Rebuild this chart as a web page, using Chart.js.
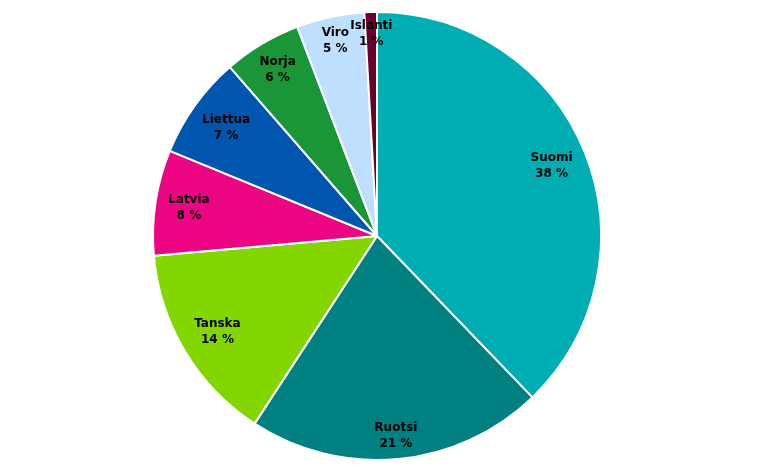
<!DOCTYPE html>
<html>
<head>
<meta charset="utf-8">
<script src="https://cdn.jsdelivr.net/npm/chart.js@4/dist/chart.umd.min.js"></script>
<style>
  html,body{margin:0;padding:0;background:#fff}
  #wrap{width:761px;height:471px;position:relative}
</style>
</head>
<body>
<div id="wrap"><canvas id="pie"></canvas></div>
<script>
const countries = ['Suomi','Ruotsi','Tanska','Latvia','Liettua','Norja','Viro','Islanti']
const shares = [37.8, 21.4, 14.4, 7.6, 7.4, 5.6, 4.9, 0.9]
const colors = ['#00adb2','#008080','#84d600','#ec0583','#0055ae','#1a9639','#bfdfff','#6b0030']

// labels sit inside the slice, pushed toward the rim so the text box just fits
const labelPlugin = {
  id:'sliceLabels',
  afterDatasetsDraw(chart){
    const ctx = chart.ctx
    const meta = chart.getDatasetMeta(0)
    const total = shares.reduce((a,b)=>a+b,0)
    ctx.save()
    ctx.font = 'bold 12px "DejaVu Sans"'
    ctx.fillStyle = '#000'
    ctx.textAlign = 'center'
    ctx.textBaseline = 'middle'
    meta.data.forEach((arc,i)=>{
      const p = arc.getProps(['x','y','startAngle','endAngle','outerRadius'],true)
      const mid = (p.startAngle+p.endAngle)/2
      const pct = Math.round(shares[i]/total*100)+' %'
      const w = Math.max(ctx.measureText(countries[i]).width, ctx.measureText(pct).width)
      const ux = Math.cos(mid), uy = Math.sin(mid)
      const ext = Math.abs(ux)*(w/2+5) + Math.abs(uy)*15
      const r = p.outerRadius - 6 - ext
      const x = p.x + ux*r
      const y = p.y + uy*r
      ctx.fillText(countries[i], x, y-8)
      ctx.fillText(pct, x, y+8)
    })
    ctx.restore()
  }
}

new Chart(document.getElementById('pie'),{
  type:'pie',
  data:{labels:countries,datasets:[{data:shares,backgroundColor:colors,borderColor:'#fff',borderWidth:2}]},
  options:{
    responsive:true,
    maintainAspectRatio:false,
    animation:false,
    layout:{padding:{top:11,bottom:10,left:0,right:7}},
    plugins:{legend:{display:false},tooltip:{enabled:false}}
  },
  plugins:[labelPlugin]
})
</script>
</body>
</html>
